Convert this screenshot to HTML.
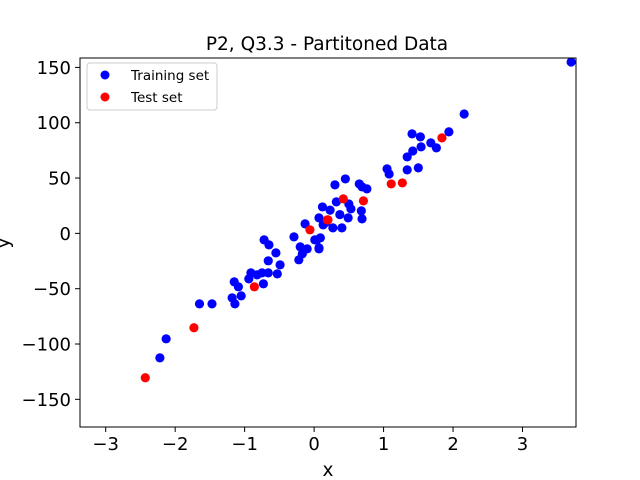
<!DOCTYPE html>
<html><head><meta charset="utf-8"><style>
body{margin:0;background:#fff;}
svg{display:block;font-family:"DejaVu Sans","Liberation Sans",sans-serif;}
</style></head><body>
<svg id="chart" width="640" height="480" viewBox="0 0 640 480">
<rect width="640" height="480" fill="#fff"/>
<text x="327" y="50" font-size="18.5" text-anchor="middle">P2, Q3.3 - Partitoned Data</text>
<g id="marks"></g>
<g id="axes"></g>
<rect x="80" y="58" width="496" height="369" fill="none" stroke="#000" stroke-width="1"/>
<text x="328" y="476" font-size="18.5" text-anchor="middle">x</text>
<text transform="translate(9,243) rotate(-90)" font-size="18.5" text-anchor="middle">y</text>
<g>
<rect x="87" y="63" width="130" height="47" rx="3" fill="#fff" stroke="#ccc"/>
<circle cx="105" cy="75" r="4.5" fill="#0000ff"/>
<text x="131" y="80" font-size="13.5">Training set</text>
<circle cx="105" cy="97" r="4.5" fill="#ff0000"/>
<text x="131" y="102" font-size="13.5">Test set</text>
</g>
</svg>
<script>
const trainX=[-2.22,-2.13,-1.65,-1.47,-1.15,-1.09,-1.18,-1.05,-1.14,-0.91,-0.94,-0.82,-0.73,-0.75,-0.66,-0.53,-0.49,-0.66,-0.55,-0.72,-0.65,-0.29,-0.20,-0.10,-0.22,-0.17,0.07,-0.13,0.01,0.09,0.12,0.07,0.13,3.70,2.16,1.94,1.41,1.53,1.54,1.68,1.76,1.42,1.34,1.50,1.34,1.05,1.08,0.45,0.30,0.65,0.69,0.76,0.32,0.50,0.53,0.68,0.69,0.49,0.40,0.27,0.04,0.07,0.23,0.37,0.17];
const trainY=[-112.5,-95.3,-63.7,-63.7,-43.8,-48.3,-58.3,-56.5,-63.7,-35.7,-41.1,-37.5,-45.6,-35.7,-35.7,-36.6,-28.5,-24.8,-17.6,-5.9,-10.4,-3.2,-12.2,-14.0,-23.9,-18.5,-14.0,8.6,-5.9,-4.1,23.9,14.0,7.7,154.9,107.9,91.7,89.9,87.2,78.2,81.8,77.3,74.5,69.1,59.2,57.4,58.3,53.7,49.2,43.8,44.7,42.0,40.2,28.5,26.6,22.1,20.3,13.1,14.0,5.0,5.0,-5.9,-13.1,21.0,17.0,10.0];
const testX=[-2.43,-1.73,-0.86,-0.06,0.19,1.84,1.11,1.27,0.42,0.71,0.20];
const testY=[-130.5,-85.3,-48.3,3.2,12.2,86.3,44.7,45.6,31.2,29.4,12.2];
const xTicks=[-3,-2,-1,0,1,2,3];
const yTicks=[-150,-100,-50,0,50,100,150];
const X0=80,X1=576,Y0=58,Y1=427,xmin=-3.37,xmax=3.77,ymin=-175,ymax=158.5;
function sx(v){return X0+(v-xmin)/(xmax-xmin)*(X1-X0);}
function sy(v){return Y1-(v-ymin)/(ymax-ymin)*(Y1-Y0);}
const NS='http://www.w3.org/2000/svg';
const marks=document.getElementById('marks'),axes=document.getElementById('axes');
function dots(xs,ys,color,name){
  for(let i=0;i<xs.length;i++){
    const c=document.createElementNS(NS,'circle');
    c.setAttribute('cx',sx(xs[i]));c.setAttribute('cy',sy(ys[i]));c.setAttribute('r',4.6);c.setAttribute('fill',color);
    
    
    marks.appendChild(c);
  }
}
dots(trainX,trainY,'#0000ff','training-point');
dots(testX,testY,'#ff0000','test-point');
xTicks.forEach(t=>{
  const x=sx(t);
  const l=document.createElementNS(NS,'line');
  l.setAttribute('x1',x);l.setAttribute('x2',x);l.setAttribute('y1',Y1);l.setAttribute('y2',Y1+5);l.setAttribute('stroke','#000');
  
  
  axes.appendChild(l);
  const tx=document.createElementNS(NS,'text');
  tx.setAttribute('x',x);tx.setAttribute('y',Y1+23);tx.setAttribute('font-size','18');tx.setAttribute('text-anchor','middle');
  tx.textContent=t<0?'\u2212'+Math.abs(t):String(t);
  
  
  axes.appendChild(tx);
});
yTicks.forEach(t=>{
  const y=sy(t);
  const l=document.createElementNS(NS,'line');
  l.setAttribute('x1',X0-5);l.setAttribute('x2',X0);l.setAttribute('y1',y);l.setAttribute('y2',y);l.setAttribute('stroke','#000');
  
  
  axes.appendChild(l);
  const tx=document.createElementNS(NS,'text');
  tx.setAttribute('x',X0-9);tx.setAttribute('y',y+6.5);tx.setAttribute('font-size','18');tx.setAttribute('text-anchor','end');
  tx.textContent=t<0?'\u2212'+Math.abs(t):String(t);
  
  
  axes.appendChild(tx);
});
</script>
</body></html>
